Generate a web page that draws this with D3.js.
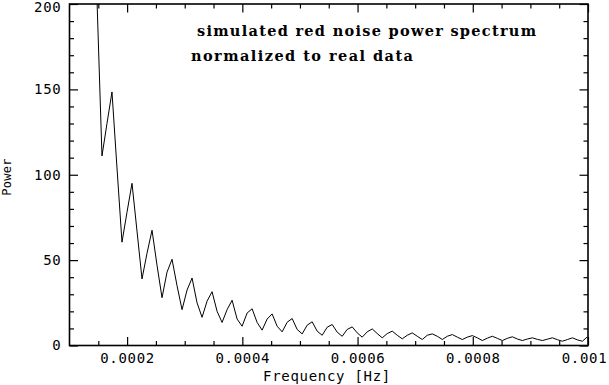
<!DOCTYPE html>
<html>
<head>
<meta charset="utf-8">
<script src="https://cdn.jsdelivr.net/npm/d3@7"></script>
<style>
  body { margin: 0; background: #fff; }
  .tickLabel { font-family: "DejaVu Sans Mono", monospace; font-size: 14px; letter-spacing: 0.7px; fill: #000; }
  .noteText { font-family: "DejaVu Serif", serif; font-size: 14.5px; font-weight: bold; fill: #000; }
</style>
</head>
<body>
<svg id="chart" width="609" height="385"></svg>
<script>

// ...............................
// data

// frequency bins are k * binWidth (Hz), k = 17 .. 115
var binWidth = 8.687e-6;
var binIndex = d3.range(17, 116);

var power = [
  203, 111, 130, 148.5, 104, 60.5, 78, 95, 67, 39,
  54, 67.5, 47, 28, 43, 50.5, 35, 21, 32.5, 39.5,
  25, 16.5, 26, 31.5, 20, 13.5, 21, 26.5, 15.5, 11.3,
  19, 21.5, 13.5, 9, 15.5, 18.5, 11.3, 8, 13.6, 15.8,
  9.4, 6.8, 11.9, 13.9, 8.4, 6, 10.7, 12.3, 7.8, 5.4,
  9.4, 10.9, 7.4, 4.9, 8, 9.7, 7, 4.5, 7, 8.4,
  6, 3.9, 6, 7.4, 5.4, 3.5, 6, 6.8, 5.4, 3.5,
  5.4, 6.4, 4.9, 3.5, 4.9, 5.8, 4.5, 2.9, 4.3, 5.4,
  4.2, 2.9, 4.2, 5.1, 3.8, 2.9, 3.8, 4.5, 3.6, 2.9,
  3.7, 4.5, 3.4, 2.5, 3.5, 4.5, 3.3, 2.5, 5.1
];

var xTicks = [0.0002, 0.0004, 0.0006, 0.0008, 0.001];
var yTicks = [0, 50, 100, 150, 200];
var noteLines = ["simulated red noise power spectrum", "normalized to real data"];

// ...............................
// layout

var svg = d3.select("#chart");
var plot = {left: 69.5, right: 588, top: 4, bottom: 345.5};

var x = d3.scaleLinear().domain([0.0001, 0.001]).range([plot.left, plot.right]);
var y = d3.scaleLinear().domain([0, 200]).range([plot.bottom, plot.top]);

var xMinor = d3.range(0.00015, 0.001, 0.00005).filter(function (v) {
  return xTicks.every(function (t) { return Math.abs(t - v) > 1e-9; });
});
var yMinor = d3.range(10, 200, 10).filter(function (v) { return v % 50 !== 0; });

// draw one set of inward ticks (labels only when fmt given)
function fn_ticks(axisFn, scale, values, size, transform, fmt, pad) {
  var g = svg.append("g")
    .attr("transform", transform)
    .call(axisFn(scale).tickValues(values).tickSizeInner(-size).tickSizeOuter(0)
      .tickPadding(pad || 0).tickFormat(fmt || function () { return ""; }));
  g.select(".domain").remove();
  g.selectAll(".tick line").attr("stroke", "#000").attr("stroke-width", 1.2);
  g.selectAll(".tick text").attr("class", "tickLabel");
  return g;
}

var bx = "translate(0," + plot.bottom + ")", tx = "translate(0," + plot.top + ")";
var ly = "translate(" + plot.left + ",0)", ry = "translate(" + plot.right + ",0)";

fn_ticks(d3.axisBottom, x, xMinor, 4.5, bx);
fn_ticks(d3.axisTop, x, xMinor, 4.5, tx);
fn_ticks(d3.axisLeft, y, yMinor, 4.5, ly);
fn_ticks(d3.axisRight, y, yMinor, 4.5, ry);

var xLab = fn_ticks(d3.axisBottom, x, xTicks, 8.5, bx, function (d) { return d3.format("")(d); }, 8);
fn_ticks(d3.axisTop, x, xTicks, 8.5, tx);
var yLab = fn_ticks(d3.axisLeft, y, yTicks, 8.5, ly, d3.format("d"), 8);
fn_ticks(d3.axisRight, y, yTicks, 8.5, ry);

// PGPLOT keeps the end labels inside the page
xLab.selectAll(".tick text").filter(function (d) { return d === 0.001; }).attr("dx", -4);
yLab.selectAll(".tick text").filter(function (d) { return d === 200; }).attr("dy", "0.5em");

// curve, clipped to the frame
svg.append("clipPath").attr("id", "plotClip")
  .append("rect")
  .attr("x", plot.left).attr("y", plot.top)
  .attr("width", plot.right - plot.left).attr("height", plot.bottom - plot.top);

var line = d3.line()
  .x(function (d, i) { return x(binIndex[i] * binWidth); })
  .y(function (d) { return y(d); });

svg.append("path")
  .datum(power)
  .attr("clip-path", "url(#plotClip)")
  .attr("d", line)
  .attr("fill", "none")
  .attr("stroke", "#000")
  .attr("stroke-width", 1);

// frame
svg.append("rect")
  .attr("x", plot.left).attr("y", plot.top)
  .attr("width", plot.right - plot.left).attr("height", plot.bottom - plot.top)
  .attr("fill", "none").attr("stroke", "#000").attr("stroke-width", 1.6);

// axis titles
svg.append("text").attr("class", "tickLabel")
  .attr("x", 327).attr("y", 381).attr("text-anchor", "middle")
  .text("Frequency [Hz]");

svg.append("text").attr("class", "tickLabel")
  .style("font-size", "12px").style("letter-spacing", "0.3px")
  .attr("transform", "translate(11,177) rotate(-90)")
  .attr("text-anchor", "middle")
  .text("Power");

// annotation, stretched to the width it has in the reference
svg.append("text").attr("class", "noteText").attr("x", 197).attr("y", 36)
  .attr("textLength", 339).attr("lengthAdjust", "spacing").text(noteLines[0]);
svg.append("text").attr("class", "noteText").attr("x", 191).attr("y", 61)
  .attr("textLength", 222).attr("lengthAdjust", "spacing").text(noteLines[1]);

</script>
</body>
</html>
